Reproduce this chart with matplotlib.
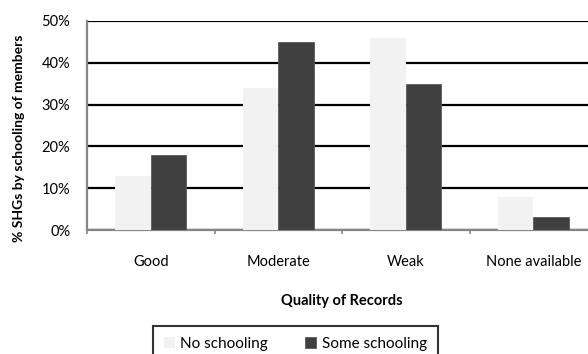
import numpy as np
import matplotlib
matplotlib.use("Agg")
from matplotlib import pyplot as plt
from matplotlib.ticker import FuncFormatter

plt.rcParams['font.family'] = ['Lato', 'DejaVu Sans']

categories = ["Good", "Moderate", "Weak", "None available"]
no_schooling = [13, 34, 46, 8]
some_schooling = [18, 45, 35, 3]
series_names = ["No schooling", "Some schooling"]

fig = plt.figure(figsize=(5.88, 3.54), dpi=100)
# axes runs a bit past the right edge of the figure
ax = fig.add_axes([87 / 588, 124 / 354, 510 / 588, 209 / 354])

x = np.arange(len(categories))
width = 0.28
ax.bar(x - width / 2, no_schooling, width, color="#f2f2f2", zorder=3, label=series_names[0])
ax.bar(x + width / 2, some_schooling, width, color="#404040", edgecolor="#5a5a5a",
       linewidth=0.6, zorder=3, label=series_names[1])

ax.set_xlim(-0.5, 3.5)
ax.set_ylim(0, 50)
ax.set_yticks(range(0, 51, 10))
ax.yaxis.set_major_formatter(FuncFormatter(lambda v, p: f"{int(v)}%"))
ax.yaxis.grid(True, color="black", linewidth=1.6, zorder=1)
ax.set_axisbelow(True)

ax.set_xticks(x)
ax.set_xticklabels(categories)
ax.set_xticks(np.arange(-0.5, 3.6, 1), minor=True)
ax.tick_params(axis="x", which="major", length=0, pad=18, labelsize=10.5)
ax.tick_params(axis="x", which="minor", length=3, width=1.2, color="#868686", direction="out")
ax.tick_params(axis="y", length=0, pad=12, labelsize=10.5)

for side in ["top", "right"]:
    ax.spines[side].set_visible(False)
for side in ["left", "bottom"]:
    ax.spines[side].set_color("#868686")
    ax.spines[side].set_linewidth(1.6)

ax.set_ylabel("% SHGs by schooling of members", fontsize=10, fontweight="bold")
ax.yaxis.set_label_coords(-0.121, 0.44)
ax.set_xlabel("Quality of Records", fontsize=10.5, fontweight="bold", labelpad=18)

leg = fig.legend(loc="upper left", bbox_to_anchor=(153 / 588, 28 / 354), ncol=2, fontsize=11,
                 frameon=True, fancybox=False, edgecolor="black", handlelength=0.75,
                 handleheight=0.75, handletextpad=0.35, columnspacing=2.4,
                 borderpad=0.7, borderaxespad=0)
leg.get_frame().set_linewidth(1.5)

fig.savefig("out.png", dpi=100)
